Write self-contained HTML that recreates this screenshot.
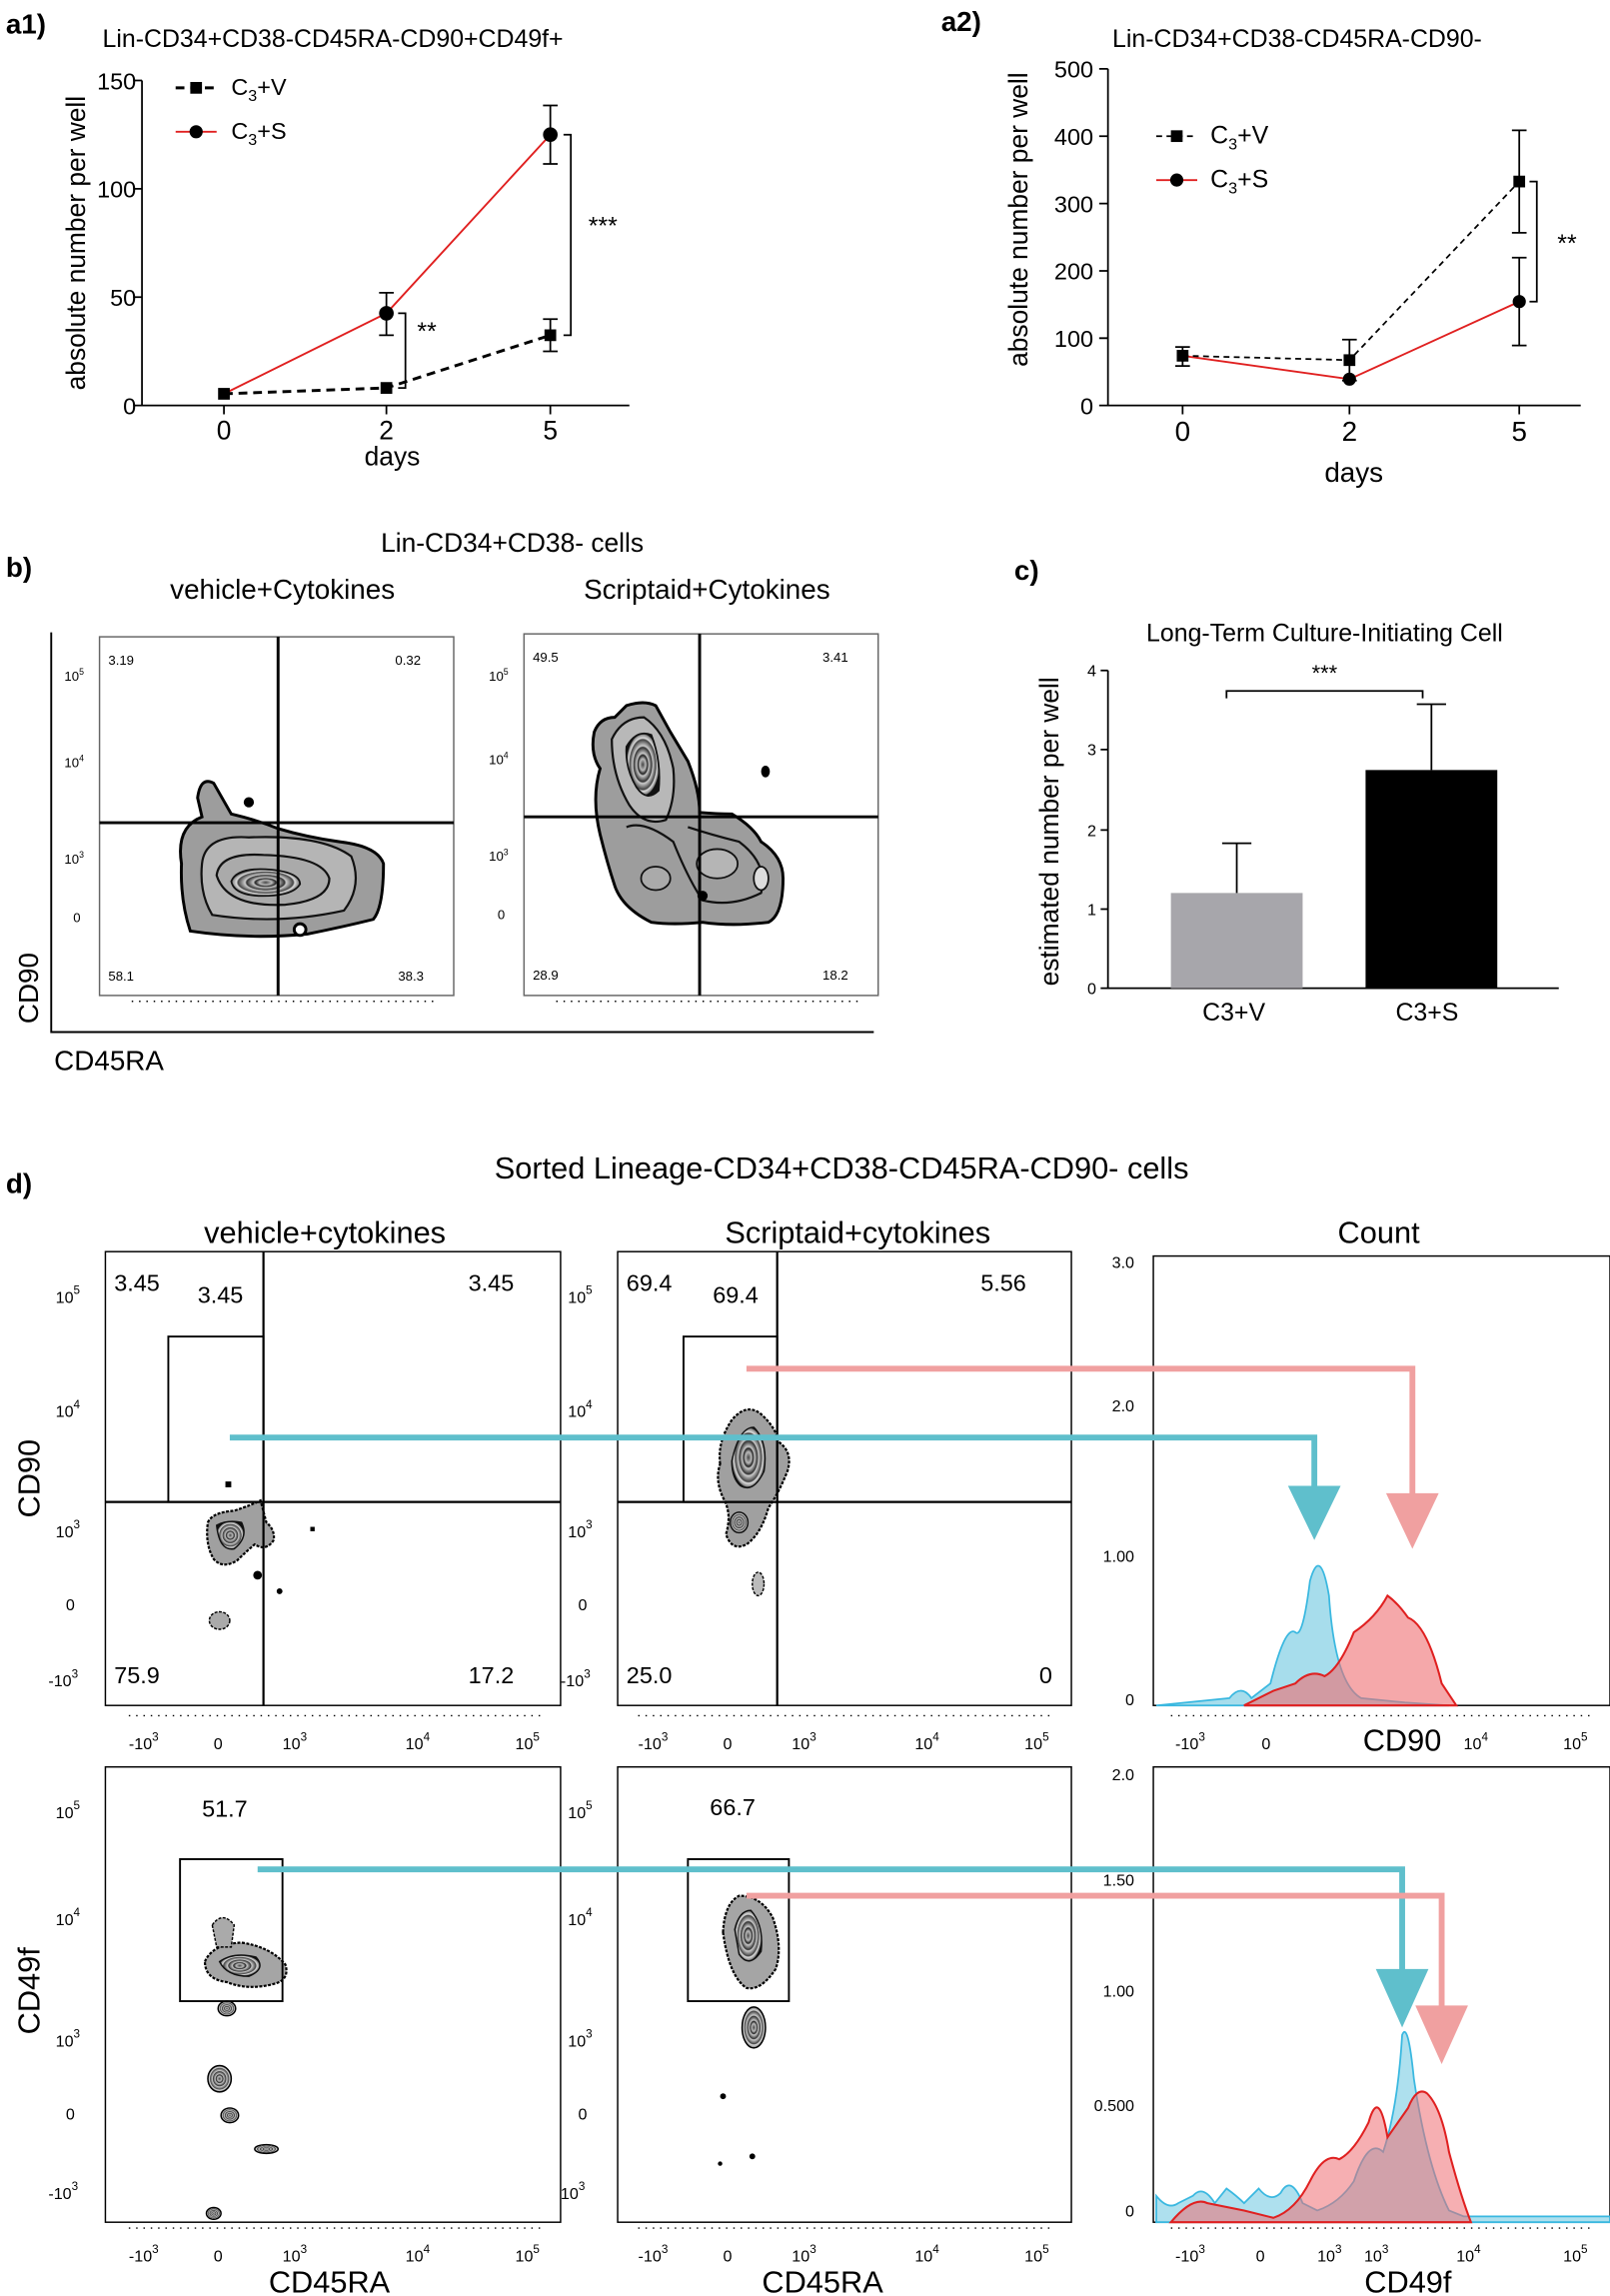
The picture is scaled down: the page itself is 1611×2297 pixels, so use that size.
<!DOCTYPE html>
<html><head><meta charset="utf-8"><style>
html,body{margin:0;padding:0;background:#fff}
svg{display:block}
text{font-family:"Liberation Sans",sans-serif;fill:#000}
</style></head><body>
<svg width="1611" height="2297" viewBox="0 0 1100 1568.4" preserveAspectRatio="none" xmlns="http://www.w3.org/2000/svg">
<defs>
<radialGradient id="blob" cx="50%" cy="50%" r="50%">
<stop offset="0" stop-color="#444"/><stop offset="0.18" stop-color="#bbb"/><stop offset="0.3" stop-color="#222"/><stop offset="0.36" stop-color="#c8c8c8"/><stop offset="0.55" stop-color="#333"/><stop offset="0.6" stop-color="#ccc"/><stop offset="0.8" stop-color="#444"/><stop offset="0.85" stop-color="#ddd"/><stop offset="0.96" stop-color="#888"/><stop offset="1" stop-color="#111"/>
</radialGradient>
</defs>

<!-- a1 -->
<text x="4" y="23" font-size="19" font-weight="bold">a1)</text>
<text x="70" y="32" font-size="17">Lin-CD34+CD38-CD45RA-CD90+CD49f+</text>
<g stroke="#000" stroke-width="1.2" fill="none">
<path d="M97,55 V277 H430"/>
<path d="M91,55H97M91,129H97M91,203H97M91,277H97M153,277v6M264,277v6M376,277v6"/>
</g>
<g font-size="16" text-anchor="end"><text x="93" y="61">150</text><text x="93" y="135">100</text><text x="93" y="209">50</text><text x="93" y="283">0</text></g>
<g font-size="18" text-anchor="middle"><text x="153" y="300">0</text><text x="264" y="300">2</text><text x="376" y="300">5</text><text x="268" y="318">days</text></g>
<text transform="translate(58,166) rotate(-90)" font-size="18" text-anchor="middle">absolute number per well</text>
<polyline points="153,269 264,214 376,92" fill="none" stroke="#e02020" stroke-width="1.3"/>
<polyline points="153,269 264,265 376,229" fill="none" stroke="#000" stroke-width="2" stroke-dasharray="6,4"/>
<g stroke="#000" stroke-width="1.2"><path d="M264,200V229M259,200h10M259,229h10M376,72V112M371,72h10M371,112h10M376,218V240M371,218h10M371,240h10"/></g>
<circle cx="264" cy="214" r="5"/><circle cx="376" cy="92" r="5"/>
<rect x="149" y="265" width="8" height="8"/><rect x="260" y="261" width="8" height="8"/><rect x="372" y="225" width="8" height="8"/>
<path d="M120,60H148" stroke="#000" stroke-width="2" stroke-dasharray="6,4"/><rect x="130" y="56" width="8" height="8"/>
<text x="158" y="65" font-size="16">C<tspan font-size="11" dy="4">3</tspan><tspan dy="-4">+V</tspan></text>
<path d="M120,90H148" stroke="#e02020" stroke-width="1.3"/><circle cx="134" cy="90" r="4.5"/>
<text x="158" y="95" font-size="16">C<tspan font-size="11" dy="4">3</tspan><tspan dy="-4">+S</tspan></text>
<path d="M272,214h5v51h-5M385,92h5v137h-5" fill="none" stroke="#000" stroke-width="1.2"/>
<text x="285" y="232" font-size="17">**</text><text x="402" y="160" font-size="17">***</text>

<!-- a2 -->
<text x="643" y="21" font-size="19" font-weight="bold">a2)</text>
<text x="760" y="32" font-size="17">Lin-CD34+CD38-CD45RA-CD90-</text>
<g stroke="#000" stroke-width="1.2" fill="none">
<path d="M757,47 V277 H1080"/>
<path d="M751,47h6M751,93h6M751,139h6M751,185h6M751,231h6M751,277h6M808,277v6M922,277v6M1038,277v6"/>
</g>
<g font-size="16" text-anchor="end"><text x="747" y="53">500</text><text x="747" y="99">400</text><text x="747" y="145">300</text><text x="747" y="191">200</text><text x="747" y="237">100</text><text x="747" y="283">0</text></g>
<g font-size="19" text-anchor="middle"><text x="808" y="301">0</text><text x="922" y="301">2</text><text x="1038" y="301">5</text><text x="925" y="329">days</text></g>
<text transform="translate(702,150) rotate(-90)" font-size="18" text-anchor="middle">absolute number per well</text>
<polyline points="808,243 922,259 1038,206" fill="none" stroke="#e02020" stroke-width="1.3"/>
<polyline points="808,243 922,246 1038,124" fill="none" stroke="#000" stroke-width="1.2" stroke-dasharray="4,3"/>
<g stroke="#000" stroke-width="1.2"><path d="M808,237V250M803,237h10M803,250h10M922,232V260M917,232h10M917,260h10M1038,89V159M1033,89h10M1033,159h10M1038,176V236M1033,176h10M1033,236h10"/></g>
<rect x="804" y="239" width="8" height="8"/><rect x="918" y="242" width="8" height="8"/><rect x="1034" y="120" width="8" height="8"/>
<circle cx="922" cy="259" r="4.5"/><circle cx="1038" cy="206" r="4.5"/><circle cx="808" cy="243" r="4"/>
<path d="M790,93H818" stroke="#000" stroke-width="1.2" stroke-dasharray="4,3"/><rect x="800" y="89" width="8" height="8"/>
<text x="827" y="98" font-size="17">C<tspan font-size="11" dy="4">3</tspan><tspan dy="-4">+V</tspan></text>
<path d="M790,123H818" stroke="#e02020" stroke-width="1.3"/><circle cx="804" cy="123" r="4.5"/>
<text x="827" y="128" font-size="17">C<tspan font-size="11" dy="4">3</tspan><tspan dy="-4">+S</tspan></text>
<path d="M1045,124h5v82h-5" fill="none" stroke="#000" stroke-width="1.2"/>
<text x="1064" y="172" font-size="17">**</text>

<!-- b -->
<text x="4" y="394" font-size="19" font-weight="bold">b)</text>
<text x="350" y="377" font-size="18" text-anchor="middle">Lin-CD34+CD38- cells</text>
<text x="193" y="409" font-size="19" text-anchor="middle">vehicle+Cytokines</text>
<text x="483" y="409" font-size="19" text-anchor="middle">Scriptaid+Cytokines</text>
<g fill="none" stroke="#000">
<rect x="68" y="435" width="242" height="245" stroke="#666" stroke-width="1"/>
<rect x="358" y="433" width="242" height="247" stroke="#666" stroke-width="1"/>
<path d="M35,432V705H597" stroke-width="1.3"/>
</g>
<!-- left blob -->
<path d="M124,590 Q120,565 138,558 L135,545 Q137,530 146,535 L158,556 Q175,560 190,566 Q210,572 232,575 Q258,578 262,590 Q262,620 255,628 Q235,633 210,638 Q170,642 130,636 Q123,615 124,590Z" fill="#9d9d9d" stroke="#000" stroke-width="2"/>
<path d="M138,590 Q140,570 170,572 Q220,570 240,585 Q248,605 235,622 Q190,632 145,625 Q136,610 138,590Z" fill="#b5b5b5" stroke="#111" stroke-width="1.5"/>
<path d="M148,598 Q150,582 180,584 Q220,585 225,600 Q225,615 195,618 Q155,620 148,598Z" fill="#aaa" stroke="#111" stroke-width="1.5"/>
<path d="M158,602 Q162,592 185,594 Q205,596 205,604 Q200,612 180,612 Q160,612 158,602Z" fill="url(#blob)" stroke="#111" stroke-width="1.2"/>
<circle cx="170" cy="548" r="3.5"/><circle cx="205" cy="635" r="4" fill="#fff" stroke="#000" stroke-width="2"/>
<!-- right blob -->
<path d="M406,500 Q410,490 420,490 L428,482 Q440,478 448,482 L458,500 L470,520 Q478,540 478,555 Q490,556 500,556 Q515,565 520,575 Q535,585 535,600 Q535,625 525,630 Q500,633 480,630 Q460,632 445,630 Q425,620 420,605 Q415,590 410,570 Q404,545 410,525 Q403,515 406,500Z" fill="#9d9d9d" stroke="#000" stroke-width="2"/>
<path d="M418,505 Q425,490 440,490 Q455,500 460,525 Q462,545 455,560 Q440,565 430,550 Q418,530 418,505Z" fill="#b8b8b8" stroke="#111" stroke-width="1.5"/>
<path d="M428,510 Q435,498 445,502 Q452,520 450,540 Q442,548 435,538 Q427,525 428,510Z" fill="url(#blob)" stroke="#111" stroke-width="1.2"/>
<path d="M428,565 Q440,560 460,575 Q470,600 480,615 Q500,620 520,610 Q525,590 505,575 Q485,570 470,565" fill="none" stroke="#111" stroke-width="1.5"/>
<ellipse cx="490" cy="590" rx="14" ry="10" fill="#b5b5b5" stroke="#111" stroke-width="1.2"/>
<ellipse cx="448" cy="600" rx="10" ry="8" fill="#aaa" stroke="#111" stroke-width="1.2"/>
<ellipse cx="520" cy="600" rx="5" ry="8" fill="#ddd" stroke="#111" stroke-width="1.2"/>
<circle cx="480" cy="612" r="3.5"/>
<ellipse cx="523" cy="527" rx="3" ry="4"/>
<g fill="none" stroke="#000">
<path d="M190,435V680M68,562H310M478,433V680M358,558H600" stroke-width="2"/>
</g>
<g font-size="9"><text x="74" y="454">3.19</text><text x="270" y="454">0.32</text><text x="74" y="670">58.1</text><text x="272" y="670">38.3</text>
<text x="364" y="452">49.5</text><text x="562" y="452">3.41</text><text x="364" y="669">28.9</text><text x="562" y="669">18.2</text>
<text x="44" y="465">10<tspan font-size="6" dy="-4">5</tspan></text><text x="44" y="524">10<tspan font-size="6" dy="-4">4</tspan></text><text x="44" y="590">10<tspan font-size="6" dy="-4">3</tspan></text><text x="50" y="630">0</text>
<text x="334" y="465">10<tspan font-size="6" dy="-4">5</tspan></text><text x="334" y="522">10<tspan font-size="6" dy="-4">4</tspan></text><text x="334" y="588">10<tspan font-size="6" dy="-4">3</tspan></text><text x="340" y="628">0</text></g>
<path d="M90,684H300M380,684H590" stroke="#000" stroke-width="1" stroke-dasharray="1,4"/>
<text transform="translate(26,675) rotate(-90)" font-size="19" text-anchor="middle">CD90</text>
<text x="37" y="731" font-size="19">CD45RA</text>

<!-- c -->
<text x="693" y="396" font-size="19" font-weight="bold">c)</text>
<text x="905" y="438" font-size="17" text-anchor="middle">Long-Term Culture-Initiating Cell</text>
<g stroke="#000" stroke-width="1.2" fill="none"><path d="M757,458V675H1065M752,458h5M752,512h5M752,567h5M752,621h5M752,675h5"/></g>
<g font-size="11" text-anchor="end"><text x="749" y="462">4</text><text x="749" y="516">3</text><text x="749" y="571">2</text><text x="749" y="625">1</text><text x="749" y="679">0</text></g>
<rect x="800" y="610" width="90" height="65" fill="#a7a6ab"/>
<rect x="933" y="526" width="90" height="149" fill="#000"/>
<path d="M845,610V576M835,576h20M978,526V481M968,481h20M838,477V472H972V477" stroke="#000" stroke-width="1.2" fill="none"/>
<text x="905" y="465" font-size="15" text-anchor="middle">***</text>
<text x="843" y="697" font-size="17" text-anchor="middle">C3+V</text><text x="975" y="697" font-size="17" text-anchor="middle">C3+S</text>
<text transform="translate(723,568) rotate(-90)" font-size="18" text-anchor="middle">estimated number per well</text>

<!-- d -->
<text x="4" y="815" font-size="19" font-weight="bold">d)</text>
<text x="575" y="805" font-size="21" text-anchor="middle">Sorted Lineage-CD34+CD38-CD45RA-CD90- cells</text>
<text x="222" y="849" font-size="21" text-anchor="middle">vehicle+cytokines</text>
<text x="586" y="849" font-size="21" text-anchor="middle">Scriptaid+cytokines</text>
<text x="942" y="849" font-size="21" text-anchor="middle">Count</text>
<!-- blobs d -->
<path d="M142,1040 Q145,1033 160,1032 Q172,1028 178,1025 L182,1040 Q188,1045 187,1052 Q182,1060 174,1055 Q168,1060 162,1066 Q152,1072 146,1065 Q140,1055 142,1040Z" fill="#a0a0a0" stroke="#000" stroke-width="1.5" stroke-dasharray="2,1"/>
<path d="M148,1042 Q155,1038 165,1040 Q170,1050 160,1058 Q150,1060 148,1042Z" fill="url(#blob)" stroke="#111"/>
<ellipse cx="150" cy="1107" rx="7" ry="6" fill="#aaa" stroke="#000" stroke-dasharray="2,1"/>
<circle cx="176" cy="1076" r="3"/><circle cx="191" cy="1087" r="2"/><rect x="154" y="1012" width="4" height="4"/><rect x="212" y="1043" width="3" height="3"/>
<path d="M492,1000 Q490,985 500,970 Q510,958 520,966 Q530,975 532,985 Q542,992 538,1005 Q532,1020 525,1030 Q520,1048 510,1055 Q500,1060 496,1048 Q500,1035 495,1025 Q488,1012 492,1000Z" fill="#a0a0a0" stroke="#000" stroke-width="1.5" stroke-dasharray="2,1"/>
<path d="M500,998 Q505,975 515,975 Q525,985 522,1005 Q515,1020 506,1015 Q500,1010 500,998Z" fill="url(#blob)" stroke="#111"/>
<ellipse cx="505" cy="1040" rx="6" ry="7" fill="url(#blob)" stroke="#111"/>
<ellipse cx="518" cy="1082" rx="4" ry="8" fill="#bbb" stroke="#000" stroke-dasharray="2,1"/>
<path d="M140,1340 Q145,1328 165,1327 Q185,1330 195,1342 Q198,1352 188,1355 Q170,1360 155,1354 Q140,1352 140,1340Z" fill="#a5a5a5" stroke="#000" stroke-width="1.5" stroke-dasharray="2,1"/>
<path d="M150,1340 Q160,1333 175,1337 Q182,1345 170,1350 Q155,1350 150,1340Z" fill="url(#blob)" stroke="#111"/>
<path d="M145,1315 Q152,1305 160,1315 L158,1330 L148,1330Z" fill="#aaa" stroke="#000" stroke-dasharray="2,1"/>
<ellipse cx="155" cy="1372" rx="6" ry="5" fill="url(#blob)" stroke="#000"/>
<ellipse cx="150" cy="1420" rx="8" ry="9" fill="url(#blob)" stroke="#000"/>
<ellipse cx="157" cy="1445" rx="6" ry="5" fill="url(#blob)" stroke="#000"/>
<ellipse cx="182" cy="1468" rx="8" ry="3" fill="url(#blob)" stroke="#000"/>
<ellipse cx="146" cy="1512" rx="5" ry="4" fill="url(#blob)" stroke="#000"/>
<path d="M494,1320 Q495,1300 505,1295 Q520,1295 528,1310 Q535,1330 530,1345 Q520,1360 510,1358 Q498,1350 494,1320Z" fill="#a5a5a5" stroke="#000" stroke-width="1.5" stroke-dasharray="2,1"/>
<path d="M502,1318 Q505,1305 513,1305 Q522,1315 520,1333 Q512,1345 505,1335Z" fill="url(#blob)" stroke="#111"/>
<ellipse cx="515" cy="1385" rx="8" ry="14" fill="url(#blob)" stroke="#000"/>
<circle cx="494" cy="1432" r="2"/><circle cx="514" cy="1473" r="2"/><circle cx="492" cy="1478" r="1.5"/>
<g fill="none" stroke="#000" stroke-width="1">
<rect x="72" y="855" width="311" height="310"/><rect x="422" y="855" width="310" height="310"/><rect x="788" y="858" width="312" height="307"/>
<rect x="72" y="1207" width="311" height="311"/><rect x="422" y="1207" width="310" height="311"/><rect x="788" y="1207" width="312" height="311"/>
<path d="M180,855V1165M72,1026H383M531,855V1165M422,1026H732" stroke-width="1.5"/>
<rect x="115" y="913" width="65" height="113" stroke-width="1.3"/><rect x="467" y="913" width="64" height="113" stroke-width="1.3"/>
<rect x="123" y="1270" width="70" height="97" stroke-width="1.3"/><rect x="470" y="1270" width="69" height="97" stroke-width="1.3"/>
</g>
<g font-size="16"><text x="78" y="882">3.45</text><text x="135" y="890">3.45</text><text x="320" y="882">3.45</text><text x="78" y="1150">75.9</text><text x="320" y="1150">17.2</text>
<text x="428" y="882">69.4</text><text x="487" y="890">69.4</text><text x="670" y="882">5.56</text><text x="428" y="1150">25.0</text><text x="710" y="1150">0</text>
<text x="138" y="1241">51.7</text><text x="485" y="1240">66.7</text></g>
<g font-size="11">
<text x="38" y="890">10<tspan font-size="8" dy="-6">5</tspan></text><text x="38" y="968">10<tspan font-size="8" dy="-6">4</tspan></text><text x="38" y="1050">10<tspan font-size="8" dy="-6">3</tspan></text><text x="45" y="1100">0</text><text x="33" y="1152">-10<tspan font-size="8" dy="-6">3</tspan></text>
<text x="388" y="890">10<tspan font-size="8" dy="-6">5</tspan></text><text x="388" y="968">10<tspan font-size="8" dy="-6">4</tspan></text><text x="388" y="1050">10<tspan font-size="8" dy="-6">3</tspan></text><text x="395" y="1100">0</text><text x="383" y="1152">-10<tspan font-size="8" dy="-6">3</tspan></text>
<text x="38" y="1242">10<tspan font-size="8" dy="-6">5</tspan></text><text x="38" y="1315">10<tspan font-size="8" dy="-6">4</tspan></text><text x="38" y="1398">10<tspan font-size="8" dy="-6">3</tspan></text><text x="45" y="1448">0</text><text x="33" y="1502">-10<tspan font-size="8" dy="-6">3</tspan></text>
<text x="388" y="1242">10<tspan font-size="8" dy="-6">5</tspan></text><text x="388" y="1315">10<tspan font-size="8" dy="-6">4</tspan></text><text x="388" y="1398">10<tspan font-size="8" dy="-6">3</tspan></text><text x="395" y="1448">0</text><text x="383" y="1502">10<tspan font-size="8" dy="-6">3</tspan></text>
<text x="88" y="1195">-10<tspan font-size="8" dy="-6">3</tspan></text><text x="146" y="1195">0</text><text x="193" y="1195">10<tspan font-size="8" dy="-6">3</tspan></text><text x="277" y="1195">10<tspan font-size="8" dy="-6">4</tspan></text><text x="352" y="1195">10<tspan font-size="8" dy="-6">5</tspan></text>
<text x="436" y="1195">-10<tspan font-size="8" dy="-6">3</tspan></text><text x="494" y="1195">0</text><text x="541" y="1195">10<tspan font-size="8" dy="-6">3</tspan></text><text x="625" y="1195">10<tspan font-size="8" dy="-6">4</tspan></text><text x="700" y="1195">10<tspan font-size="8" dy="-6">5</tspan></text>
<text x="803" y="1195">-10<tspan font-size="8" dy="-6">3</tspan></text><text x="862" y="1195">0</text><text x="1000" y="1195">10<tspan font-size="8" dy="-6">4</tspan></text><text x="1068" y="1195">10<tspan font-size="8" dy="-6">5</tspan></text>
<text x="88" y="1545">-10<tspan font-size="8" dy="-6">3</tspan></text><text x="146" y="1545">0</text><text x="193" y="1545">10<tspan font-size="8" dy="-6">3</tspan></text><text x="277" y="1545">10<tspan font-size="8" dy="-6">4</tspan></text><text x="352" y="1545">10<tspan font-size="8" dy="-6">5</tspan></text>
<text x="436" y="1545">-10<tspan font-size="8" dy="-6">3</tspan></text><text x="494" y="1545">0</text><text x="541" y="1545">10<tspan font-size="8" dy="-6">3</tspan></text><text x="625" y="1545">10<tspan font-size="8" dy="-6">4</tspan></text><text x="700" y="1545">10<tspan font-size="8" dy="-6">5</tspan></text>
<text x="803" y="1545">-10<tspan font-size="8" dy="-6">3</tspan></text><text x="858" y="1545">0</text><text x="900" y="1545">10<tspan font-size="8" dy="-6">3</tspan></text><text x="932" y="1545">10<tspan font-size="8" dy="-6">3</tspan></text><text x="995" y="1545">10<tspan font-size="8" dy="-6">4</tspan></text><text x="1068" y="1545">10<tspan font-size="8" dy="-6">5</tspan></text>
<text x="775" y="866" text-anchor="end">3.0</text><text x="775" y="964" text-anchor="end">2.0</text><text x="775" y="1067" text-anchor="end">1.00</text><text x="775" y="1165" text-anchor="end">0</text>
<text x="775" y="1216" text-anchor="end">2.0</text><text x="775" y="1288" text-anchor="end">1.50</text><text x="775" y="1364" text-anchor="end">1.00</text><text x="775" y="1442" text-anchor="end">0.500</text><text x="775" y="1514" text-anchor="end">0</text>
</g>
<g stroke="#000" stroke-width="1"><path d="M88,1172H370M436,1172H720M800,1172H1090M88,1522H370M436,1522H720M800,1522H1090" stroke-dasharray="1,4"/></g>
<!-- histograms -->
<path d="M790,1165 L840,1160 Q848,1150 855,1160 L868,1150 Q878,1110 885,1115 Q890,1120 895,1080 Q902,1055 908,1090 Q912,1150 930,1160 L960,1163 L990,1165Z" fill="#6cc6e0" fill-opacity="0.6" stroke="#3ab8e0" stroke-width="1.2"/>
<path d="M850,1165 L870,1155 L885,1150 Q895,1140 905,1145 Q915,1140 925,1115 Q940,1105 948,1090 Q955,1095 962,1105 Q975,1110 985,1150 L995,1165Z" fill="#ee6e72" fill-opacity="0.6" stroke="#e02020" stroke-width="1.4"/>
<path d="M790,1500 Q798,1510 805,1505 L815,1500 Q822,1492 830,1505 L838,1495 Q845,1500 850,1505 L860,1495 Q868,1505 875,1498 Q882,1485 890,1505 L900,1510 Q915,1505 925,1490 Q935,1460 945,1470 Q955,1440 958,1390 Q962,1380 966,1420 Q975,1480 990,1510 L1000,1514 L1100,1514 L1100,1518 L790,1518Z" fill="#6cc6e0" fill-opacity="0.55" stroke="#3ab8e0" stroke-width="1.2"/>
<path d="M800,1518 Q815,1500 825,1505 L850,1510 L870,1515 Q885,1510 895,1490 Q905,1470 915,1475 Q925,1470 935,1450 Q942,1425 948,1460 Q955,1450 962,1440 Q968,1425 975,1430 Q985,1440 990,1470 Q998,1500 1005,1518Z" fill="#ee6e72" fill-opacity="0.55" stroke="#e02020" stroke-width="1.4"/>
<!-- arrows -->
<path d="M157,982H898V1025" fill="none" stroke="#5fbfcc" stroke-width="4"/>
<path d="M880,1015L916,1015L898,1052Z" fill="#5fbfcc"/>
<path d="M510,935H965V1025" fill="none" stroke="#f0a0a0" stroke-width="4"/>
<path d="M947,1020L983,1020L965,1058Z" fill="#f0a0a0"/>
<path d="M176,1277H958V1355" fill="none" stroke="#5fbfcc" stroke-width="4"/>
<path d="M940,1345L976,1345L958,1385Z" fill="#5fbfcc"/>
<path d="M510,1295H985V1375" fill="none" stroke="#f0a0a0" stroke-width="4"/>
<path d="M967,1370L1003,1370L985,1410Z" fill="#f0a0a0"/>
<text x="958" y="1196" font-size="21" text-anchor="middle">CD90</text>
<text transform="translate(27,1010) rotate(-90)" font-size="21" text-anchor="middle">CD90</text>
<text transform="translate(27,1360) rotate(-90)" font-size="21" text-anchor="middle">CD49f</text>
<text x="225" y="1566" font-size="21" text-anchor="middle">CD45RA</text>
<text x="562" y="1566" font-size="21" text-anchor="middle">CD45RA</text>
<text x="962" y="1566" font-size="21" text-anchor="middle">CD49f</text>
</svg>
</body></html>
